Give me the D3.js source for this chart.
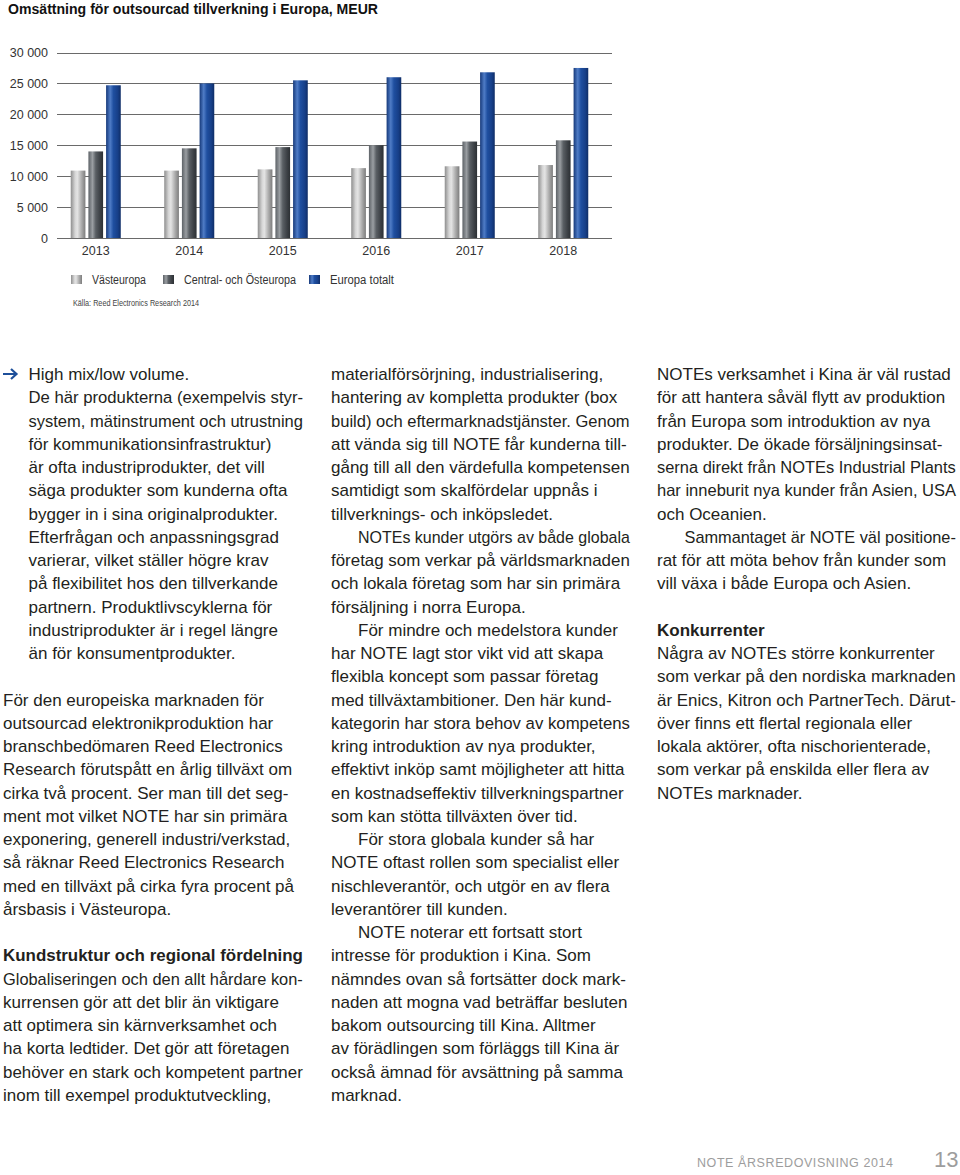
<!DOCTYPE html>
<html>
<head>
<meta charset="utf-8">
<script src="https://cdn.jsdelivr.net/npm/d3@7"></script>
<style>
  html, body { margin: 0; padding: 0; background: #fff; }
  svg { display: block; }
</style>
</head>
<body>
<svg id="page" width="960" height="1175"></svg>
<script>
// ---------------- DATA ----------------
const chartTitle = "Omsättning för outsourcad tillverkning i Europa, MEUR";
const years = ["2013", "2014", "2015", "2016", "2017", "2018"];
const seriesNames = ["Västeuropa", "Central- och Östeuropa", "Europa totalt"];
const vastEuropa   = [10900, 10900, 11100, 11300, 11600, 11800];
const centralOst   = [14000, 14500, 14700, 15000, 15600, 15800];
const europaTotalt = [24700, 25000, 25500, 26000, 26800, 27500];
const yTicks = [0, 5000, 10000, 15000, 20000, 25000, 30000];
const sourceNote = "Källa: Reed Electronics Research 2014";

const col1Lines = [
  [0, "High mix/low volume.", "arrow"],
  [1, "De här produkterna (exempelvis styr-", "ind"],
  [2, "system, mätinstrument och utrustning", "ind"],
  [3, "för kommunikationsinfrastruktur)", "ind"],
  [4, "är ofta industriprodukter, det vill", "ind"],
  [5, "säga produkter som kunderna ofta", "ind"],
  [6, "bygger in i sina originalprodukter.", "ind"],
  [7, "Efterfrågan och anpassningsgrad", "ind"],
  [8, "varierar, vilket ställer högre krav", "ind"],
  [9, "på flexibilitet hos den tillverkande", "ind"],
  [10, "partnern. Produktlivscyklerna för", "ind"],
  [11, "industriprodukter är i regel längre", "ind"],
  [12, "än för konsumentprodukter.", "ind"],
  [14, "För den europeiska marknaden för", ""],
  [15, "outsourcad elektronikproduktion har", ""],
  [16, "branschbedömaren Reed Electronics", ""],
  [17, "Research förutspått en årlig tillväxt om", ""],
  [18, "cirka två procent. Ser man till det seg-", ""],
  [19, "ment mot vilket NOTE har sin primära", ""],
  [20, "exponering, generell industri/verkstad,", ""],
  [21, "så räknar Reed Electronics Research", ""],
  [22, "med en tillväxt på cirka fyra procent på", ""],
  [23, "årsbasis i Västeuropa.", ""],
  [25, "Kundstruktur och regional fördelning", "bold"],
  [26, "Globaliseringen och den allt hårdare kon-", ""],
  [27, "kurrensen gör att det blir än viktigare", ""],
  [28, "att optimera sin kärnverksamhet och", ""],
  [29, "ha korta ledtider. Det gör att företagen", ""],
  [30, "behöver en stark och kompetent partner", ""],
  [31, "inom till exempel produktutveckling,", ""]
];
const col2Lines = [
  [0, "materialförsörjning, industrialisering,", ""],
  [1, "hantering av kompletta produkter (box", ""],
  [2, "build) och eftermarknadstjänster. Genom", ""],
  [3, "att vända sig till NOTE får kunderna till-", ""],
  [4, "gång till all den värdefulla kompetensen", ""],
  [5, "samtidigt som skalfördelar uppnås i", ""],
  [6, "tillverknings- och inköpsledet.", ""],
  [7, "NOTEs kunder utgörs av både globala", "ind"],
  [8, "företag som verkar på världsmarknaden", ""],
  [9, "och lokala företag som har sin primära", ""],
  [10, "försäljning i norra Europa.", ""],
  [11, "För mindre och medelstora kunder", "ind"],
  [12, "har NOTE lagt stor vikt vid att skapa", ""],
  [13, "flexibla koncept som passar företag", ""],
  [14, "med tillväxtambitioner. Den här kund-", ""],
  [15, "kategorin har stora behov av kompetens", ""],
  [16, "kring introduktion av nya produkter,", ""],
  [17, "effektivt inköp samt möjligheter att hitta", ""],
  [18, "en kostnadseffektiv tillverkningspartner", ""],
  [19, "som kan stötta tillväxten över tid.", ""],
  [20, "För stora globala kunder så har", "ind"],
  [21, "NOTE oftast rollen som specialist eller", ""],
  [22, "nischleverantör, och utgör en av flera", ""],
  [23, "leverantörer till kunden.", ""],
  [24, "NOTE noterar ett fortsatt stort", "ind"],
  [25, "intresse för produktion i Kina. Som", ""],
  [26, "nämndes ovan så fortsätter dock mark-", ""],
  [27, "naden att mogna vad beträffar besluten", ""],
  [28, "bakom outsourcing till Kina. Alltmer", ""],
  [29, "av förädlingen som förläggs till Kina är", ""],
  [30, "också ämnad för avsättning på samma", ""],
  [31, "marknad.", ""]
];
const col3Lines = [
  [0, "NOTEs verksamhet i Kina är väl rustad", ""],
  [1, "för att hantera såväl flytt av produktion", ""],
  [2, "från Europa som introduktion av nya", ""],
  [3, "produkter. De ökade försäljningsinsat-", ""],
  [4, "serna direkt från NOTEs Industrial Plants", ""],
  [5, "har inneburit nya kunder från Asien, USA", ""],
  [6, "och Oceanien.", ""],
  [7, "Sammantaget är NOTE väl positione-", "ind"],
  [8, "rat för att möta behov från kunder som", ""],
  [9, "vill växa i både Europa och Asien.", ""],
  [11, "Konkurrenter", "bold"],
  [12, "Några av NOTEs större konkurrenter", ""],
  [13, "som verkar på den nordiska marknaden", ""],
  [14, "är Enics, Kitron och PartnerTech. Därut-", ""],
  [15, "över finns ett flertal regionala eller", ""],
  [16, "lokala aktörer, ofta nischorienterade,", ""],
  [17, "som verkar på enskilda eller flera av", ""],
  [18, "NOTEs marknader.", ""]
];
const footerText = "NOTE ÅRSREDOVISNING 2014";
const pageNumber = "13";

// ---------------- DRAW ----------------
const svg = d3.select("#page");
const FONT = "'Liberation Sans', Arial, Helvetica, sans-serif";
const defs = svg.append("defs");

function grad(id, stops) {
  const g = defs.append("linearGradient").attr("id", id)
    .attr("x1", "0%").attr("x2", "100%").attr("y1", "0%").attr("y2", "0%");
  stops.forEach(([o, c]) => g.append("stop").attr("offset", o).attr("stop-color", c));
}
grad("gLight", [["0", "#8e8e8e"], ["0.3", "#d6d6d6"], ["0.45", "#e4e4e4"], ["0.75", "#a9a9a9"], ["1", "#7d7d7d"]]);
grad("gDark",  [["0", "#5d6267"], ["0.28", "#9a9ea2"], ["0.5", "#5a5f64"], ["0.8", "#3c4045"], ["1", "#2c3034"]]);
grad("gBlue",  [["0", "#16397a"], ["0.28", "#4f7cc6"], ["0.5", "#1f4fa0"], ["0.8", "#173f88"], ["1", "#0f2d66"]]);
const fills = ["url(#gLight)", "url(#gDark)", "url(#gBlue)"];

// Title
svg.append("text").attr("x", 8).attr("y", 13.5)
  .attr("font-family", FONT).attr("font-weight", "bold").attr("font-size", 14)
  .attr("textLength", 370).attr("lengthAdjust", "spacingAndGlyphs")
  .attr("fill", "#111").text(chartTitle);

const plotLeft = 57, plotRight = 612;
const y = d3.scaleLinear().domain([0, 30000]).range([238, 52.5]);
const x0 = d3.scaleBand().domain(years).range([49, 610]).paddingInner(0.465).paddingOuter(0.2325);
const x1 = d3.scaleBand().domain(seriesNames).range([0, x0.bandwidth()]).paddingInner(0.17);

// grid
const fmt = v => d3.format(",")(v).replace(/,/g, " ");
const gridG = svg.append("g");
gridG.selectAll("line").data(yTicks).join("line")
  .attr("x1", plotLeft).attr("x2", plotRight)
  .attr("y1", d => Math.round(y(d)) + 0.5).attr("y2", d => Math.round(y(d)) + 0.5)
  .attr("stroke", "#6a6a6a").attr("stroke-width", 1);

// y axis labels via d3 axis
const yAxis = d3.axisLeft(y).tickValues(yTicks).tickFormat(fmt).tickSize(0).tickPadding(0);
const yAx = svg.append("g").attr("transform", `translate(48,0)`).call(yAxis);
yAx.select(".domain").remove();
yAx.selectAll("text").attr("font-family", FONT).attr("font-size", 12.5).attr("fill", "#333");

// bars
const seriesData = [vastEuropa, centralOst, europaTotalt];
const groups = svg.append("g").selectAll("g").data(years).join("g")
  .attr("transform", d => `translate(${x0(d)},0)`);
groups.selectAll("rect").data((d, i) => seriesNames.map((s, k) => ({ s, k, v: seriesData[k][i] })))
  .join("rect")
  .attr("x", d => x1(d.s)).attr("width", x1.bandwidth())
  .attr("y", d => y(d.v)).attr("height", d => y(0) - y(d.v))
  .attr("fill", d => fills[d.k]);

// x axis labels
const xAxis = d3.axisBottom(x0).tickSize(0).tickPadding(0);
const xAx = svg.append("g").attr("transform", "translate(0,246)").call(xAxis);
xAx.select(".domain").remove();
xAx.selectAll("text").attr("font-family", FONT).attr("font-size", 12.5).attr("fill", "#333");

// legend
const legendX = [71, 163, 309];
const lg = svg.append("g").selectAll("g").data(seriesNames).join("g")
  .attr("transform", (d, i) => `translate(${legendX[i]},275)`);
lg.append("rect").attr("width", 11).attr("height", 9).attr("fill", (d, i) => fills[i]);
lg.append("text").attr("x", 21).attr("y", 9)
  .attr("font-family", FONT).attr("font-size", 12).attr("fill", "#333")
  .text(d => d)
  .each(function (d, i) {
    const target = [54, 112, 64][i];
    this.setAttribute("textLength", target);
    this.setAttribute("lengthAdjust", "spacingAndGlyphs");
  });

svg.append("text").attr("x", 73).attr("y", 305.5)
  .attr("font-family", FONT).attr("font-size", 9.5).attr("fill", "#444")
  .attr("textLength", 126).attr("lengthAdjust", "spacingAndGlyphs").text(sourceNote);

// body text
const TEXTC = "#231f20";
const base0 = 380, pitch = 23.25;
function drawCol(lines, left, indentX, maxRight) {
  const g = svg.append("g");
  g.selectAll("text").data(lines).join("text")
    .attr("x", d => (d[2] === "ind" || d[2] === "arrow") ? indentX : left)
    .attr("y", d => base0 + d[0] * pitch)
    .attr("font-family", FONT).attr("font-size", 17)
    .attr("font-weight", d => d[2] === "bold" ? "bold" : "normal")
    .attr("fill", TEXTC).text(d => d[1])
    .each(function () {
      const x = +this.getAttribute("x");
      const w = this.getComputedTextLength();
      if (x + w > maxRight) {
        this.setAttribute("font-size", (17 * (maxRight - x) / w).toFixed(2));
      }
    });
}
drawCol(col1Lines, 3, 28.5, 303);
drawCol(col2Lines, 331, 358, 630);
drawCol(col3Lines, 657, 684.5, 956);

// arrow
svg.append("path")
  .attr("d", `M3,${base0 - 6} L16,${base0 - 6} M11,${base0 - 11} L16.5,${base0 - 6} L11,${base0 - 1}`)
  .attr("fill", "none").attr("stroke", "#1d4f9a").attr("stroke-width", 2.2)
  .attr("stroke-linecap", "butt").attr("stroke-linejoin", "miter");

// footer
svg.append("text").attr("x", 697).attr("y", 1167)
  .attr("font-family", FONT).attr("font-size", 12.5)
  .attr("textLength", 196).attr("lengthAdjust", "spacing")
  .attr("fill", "#9d9d9d").text(footerText);
svg.append("text").attr("x", 934).attr("y", 1166.5)
  .attr("font-family", FONT).attr("font-size", 22).attr("fill", "#9d9d9d").text(pageNumber);
</script>
</body>
</html>
